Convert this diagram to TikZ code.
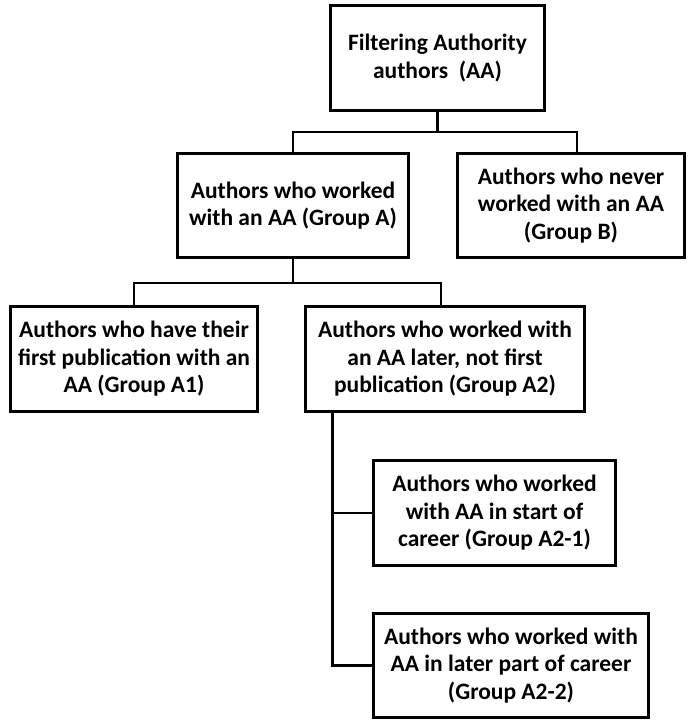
\documentclass[tikz,border=0pt]{standalone}
\usepackage{fontspec}
\setmainfont{Carlito}
\usetikzlibrary{calc}
\begin{document}
\begin{tikzpicture}[x=1pt,y=-1pt,
  box/.style={draw=black, line width=2.8pt, fill=white, align=center, inner sep=2pt,
    font=\fontsize{23.5}{27.5}\selectfont\bfseries},
  conn/.style={draw=black, line width=2.8pt}]
\useasboundingbox (0,0) rectangle (688,721);
\node[box, minimum width=214pt, minimum height=105pt] (top) at (437.5,58)
  {Filtering Authority\\authors\ \ (AA)};
\node[box, minimum width=231pt, minimum height=104pt] (ga) at (293,205.5)
  {Authors who worked\\with an AA (Group A)};
\node[box, minimum width=227pt, minimum height=104pt] (gb) at (571,205.5)
  {Authors who never\\worked with an AA\\(Group B)};
\node[box, minimum width=247pt, minimum height=105pt] (ga1) at (134,359)
  {Authors who have their\\first publication with an\\AA (Group A1)};
\node[box, minimum width=279pt, minimum height=105pt] (ga2) at (445,359)
  {Authors who worked with\\an AA later, not first\\publication (Group A2)};
\node[box, minimum width=242pt, minimum height=105pt] (ga21) at (494.5,513)
  {Authors who worked\\with AA in start of\\career (Group A2-1)};
\node[box, minimum width=275pt, minimum height=104pt] (ga22) at (511,665.5)
  {Authors who worked with\\AA in later part of career\\(Group A2-2)};
\coordinate (j1) at ($(top.south)+(0,20)$);
\coordinate (j2) at ($(ga.south)+(0,24)$);
\coordinate (j3) at ($(ga2.south west)+(28,0)$);
\draw[conn] (top.south) -- (j1);
\draw[conn] (j1) -| (ga.north);
\draw[conn] (j1) -| ([xshift=6pt]gb.north);
\draw[conn] (ga.south) -- (j2);
\draw[conn] (j2) -| (ga1.north);
\draw[conn] (j2) -| ([xshift=-4pt]ga2.north);
\draw[conn] (j3) |- (ga21.west);
\draw[conn] (j3) |- (ga22.west);
\end{tikzpicture}
\end{document}
